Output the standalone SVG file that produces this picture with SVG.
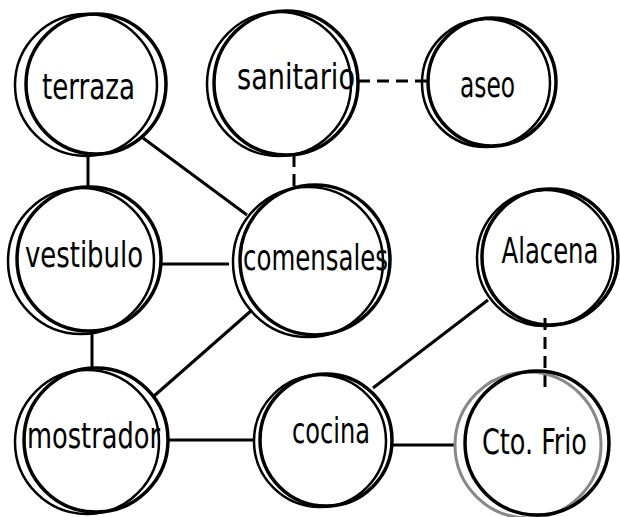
<svg xmlns="http://www.w3.org/2000/svg" width="620" height="517" viewBox="0 0 620 517">
<style>
.c{fill:none;stroke:#000;stroke-width:3.5}
.b{fill:none;stroke:#000;stroke-width:2.5}
.g{fill:none;stroke:#888;stroke-width:3}
.l{stroke:#000;stroke-width:3;fill:none}
.d{stroke:#000;stroke-width:3;fill:none;stroke-dasharray:12 7}
text{font-family:"DejaVu Sans Condensed","DejaVu Sans",sans-serif;font-stretch:condensed;font-size:36px;fill:#000}
</style>
<rect width="620" height="517" fill="#fff"/>
<g id="connectors">
<line class="l" x1="88" y1="153" x2="88" y2="188"/>
<line class="l" x1="143" y1="138" x2="247" y2="215"/>
<line class="d" x1="358" y1="81" x2="428" y2="81"/>
<line class="d" x1="294" y1="155" x2="294" y2="190"/>
<line class="l" x1="162" y1="264" x2="229" y2="264"/>
<line class="l" x1="92" y1="330" x2="92" y2="368"/>
<line class="l" x1="154" y1="396" x2="252" y2="310"/>
<line class="l" x1="167" y1="440" x2="253" y2="440"/>
<line class="l" x1="373" y1="388" x2="488" y2="300"/>
<line class="l" x1="392" y1="445" x2="455" y2="445"/>
<line class="d" x1="545" y1="318" x2="545" y2="390"/>
</g>
<g id="terraza">
<circle class="b" cx="86" cy="85" r="71"/>
<circle class="c" cx="96" cy="84" r="70"/>
<text x="42" y="99" textLength="93" lengthAdjust="spacingAndGlyphs">terraza</text>
</g>
<g id="sanitario">
<circle class="b" cx="279" cy="84" r="72"/>
<circle class="c" cx="286" cy="83" r="72"/>
<text x="237" y="89" textLength="118" lengthAdjust="spacingAndGlyphs">sanitario</text>
</g>
<g id="aseo">
<circle class="b" cx="486" cy="83" r="64"/>
<circle class="c" cx="492" cy="82" r="64"/>
<text x="460" y="97" textLength="55" lengthAdjust="spacingAndGlyphs">aseo</text>
</g>
<g id="vestibulo">
<circle class="b" cx="81" cy="261" r="73"/>
<circle class="c" cx="89" cy="259" r="72"/>
<text x="25" y="267" textLength="118" lengthAdjust="spacingAndGlyphs">vestibulo</text>
</g>
<g id="comensales">
<circle class="b" cx="308" cy="262" r="75"/>
<circle class="c" cx="315" cy="260" r="75"/>
<text x="243" y="270" textLength="145" lengthAdjust="spacingAndGlyphs">comensales</text>
</g>
<g id="Alacena">
<circle class="b" cx="545" cy="258" r="68"/>
<circle class="c" cx="550" cy="257" r="68"/>
<text transform="translate(550 263) scale(0.75 1)" x="0" y="0" text-anchor="middle">Alacena</text>
</g>
<g id="mostrador">
<circle class="b" cx="87" cy="442" r="72"/>
<circle class="c" cx="96" cy="440" r="72"/>
<text x="27" y="448" textLength="133" lengthAdjust="spacingAndGlyphs">mostrador</text>
</g>
<g id="cocina">
<circle class="b" cx="320" cy="441" r="66"/>
<circle class="c" cx="326" cy="440" r="66"/>
<text x="292" y="443" textLength="78" lengthAdjust="spacingAndGlyphs">cocina</text>
</g>
<g id="CtoFrio">
<circle class="g" cx="528" cy="445" r="73"/>
<circle class="c" cx="537" cy="443" r="72"/>
<text x="482" y="454" textLength="105" lengthAdjust="spacingAndGlyphs">Cto. Frio</text>
</g>
</svg>
